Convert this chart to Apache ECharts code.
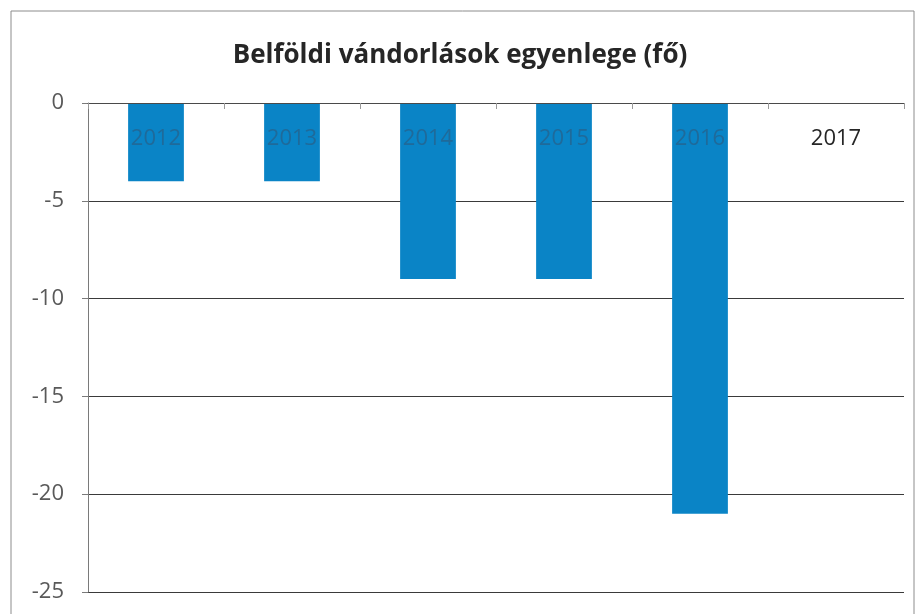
<!DOCTYPE html>
<html><head><meta charset="utf-8">
<script src="https://cdn.jsdelivr.net/npm/echarts@6/dist/echarts.min.js"></script>
<style>html,body{margin:0;padding:0;background:#fff}#c{width:920px;height:614px}</style>
</head><body><div id="c"></div>
<script>
const titleText = 'Belföldi vándorlások egyenlege (fő)';
const categories = ['2012','2013','2014','2015','2016','2017'];
const values = [-4, -4, -9, -9, -21, null];
const yMin = -25, yMax = 0, yStep = 5;

const chart = echarts.init(document.getElementById('c'));
chart.setOption({
  animation: false,
  title: {
    text: titleText, left: 'center', top: 38,
    textStyle: {fontFamily: 'Open Sans', fontWeight: 'bold', fontSize: 26, color: '#262626'}
  },
  graphic: [{
    type: 'rect', shape: {x: 11, y: 11, width: 903, height: 610},
    style: {fill: 'none', stroke: '#8c8c8c', lineWidth: 1}, silent: true
  }],
  grid: {left: 88, right: 16, top: 103, bottom: 22},
  xAxis: {
    type: 'category', data: categories, position: 'top', z: 5,
    axisLine: {lineStyle: {color: '#4a4a4a', width: 1}},
    axisTick: {show: true, inside: true, length: 6, lineStyle: {color: '#9a9a9a'}},
    axisLabel: {
      inside: true, margin: 25, fontSize: 22, fontFamily: 'Open Sans',
      formatter: function (v, i) { return values[i] == null ? '{d|' + v + '}' : '{b|' + v + '}'; },
      rich: {
        d: {color: '#262626', fontSize: 22, fontFamily: 'Open Sans'},
        b: {color: '#1f6a9a', fontSize: 22, fontFamily: 'Open Sans'}
      }
    }
  },
  yAxis: {
    type: 'value', min: yMin, max: yMax, interval: yStep,
    axisLine: {show: true, lineStyle: {color: '#7a7a7a'}},
    axisTick: {show: true, length: 6, lineStyle: {color: '#7a7a7a'}},
    axisLabel: {color: '#595959', fontSize: 22, fontFamily: 'Open Sans', margin: 24},
    splitLine: {lineStyle: {color: '#3a3a3a', width: 1}}
  },
  series: [{
    type: 'bar', data: values, barWidth: '41%', z: 3,
    itemStyle: {color: '#0a84c6'}
  }]
});
</script></body></html>
